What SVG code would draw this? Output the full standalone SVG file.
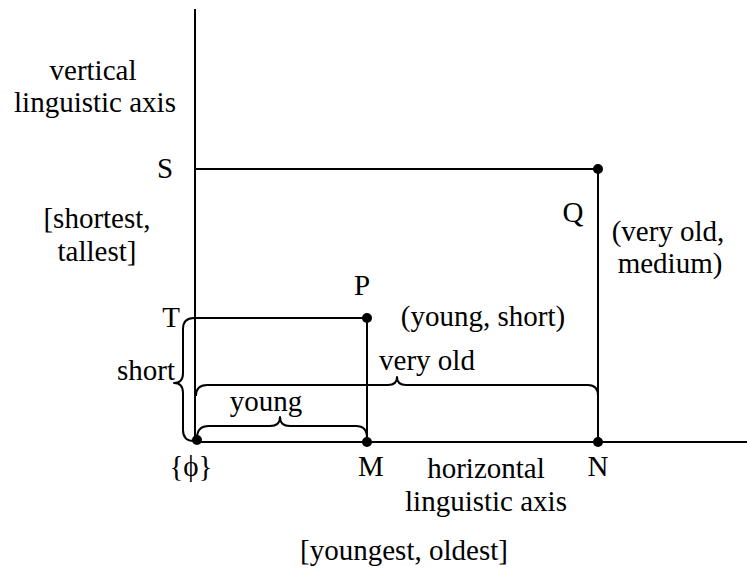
<svg xmlns="http://www.w3.org/2000/svg" width="747" height="571" viewBox="0 0 747 571">
<style>
text{font-family:'Liberation Serif','DejaVu Serif',serif;font-size:29px;fill:#000;text-anchor:middle}
.ln{stroke:#000;stroke-width:2;fill:none}
.br{stroke:#000;stroke-width:2;fill:none;stroke-linejoin:round}
.dot{fill:#000}
</style>
<rect width="747" height="571" fill="#fff"/>
<g id="axes">
<line class="ln" x1="195" y1="9" x2="195" y2="442"/>
<line class="ln" x1="195" y1="442" x2="747" y2="442"/>
<text x="93" y="80">vertical</text>
<text x="95" y="112">linguistic axis</text>
<text x="97" y="228">[shortest,</text>
<text x="97" y="261">tallest]</text>
<text x="486" y="478">horizontal</text>
<text x="486" y="511">linguistic axis</text>
<text x="404" y="560">[youngest, oldest]</text>
</g>
<g id="connectors">
<line class="ln" x1="195" y1="169" x2="598" y2="169"/>
<line class="ln" x1="598" y1="169" x2="598" y2="442"/>
<line class="ln" x1="195" y1="318" x2="367" y2="318"/>
<line class="ln" x1="367" y1="318" x2="367" y2="442"/>
</g>
<g id="brace-short">
<path class="br" d="M194,318 Q183,318 183,329 L183,373 Q183,383 174,383 Q183,383 183,393 L183,430 Q183,441 194,441"/>
<text x="146" y="380">short</text>
</g>
<g id="brace-young">
<path class="br" d="M197,438 Q197,426 209,426 L270,426 Q280,426 280,417 Q280,426 290,426 L356,426 Q367,426 367,438"/>
<text x="266" y="411">young</text>
</g>
<g id="brace-very-old">
<path class="br" d="M196,396 Q196,385 207,385 L388,385 Q397,385 397,377 Q397,385 406,385 L588,385 Q598,385 598,396"/>
<text x="427" y="370">very old</text>
</g>
<g id="node-origin">
<circle class="dot" cx="197" cy="440" r="5"/>
<text x="191" y="476">{ϕ}</text>
</g>
<g id="node-S"><text x="165" y="178">S</text></g>
<g id="node-T"><text x="171" y="327">T</text></g>
<g id="node-P">
<circle class="dot" cx="367" cy="318" r="5"/>
<text x="362" y="295">P</text>
<text x="483" y="326">(young, short)</text>
</g>
<g id="node-Q">
<circle class="dot" cx="598" cy="169" r="5"/>
<text x="573" y="222">Q</text>
<text x="668" y="241">(very old,</text>
<text x="670" y="273">medium)</text>
</g>
<g id="node-M">
<circle class="dot" cx="367" cy="442" r="5"/>
<text x="371" y="476">M</text>
</g>
<g id="node-N">
<circle class="dot" cx="598" cy="442" r="5"/>
<text x="598" y="476">N</text>
</g>
</svg>
